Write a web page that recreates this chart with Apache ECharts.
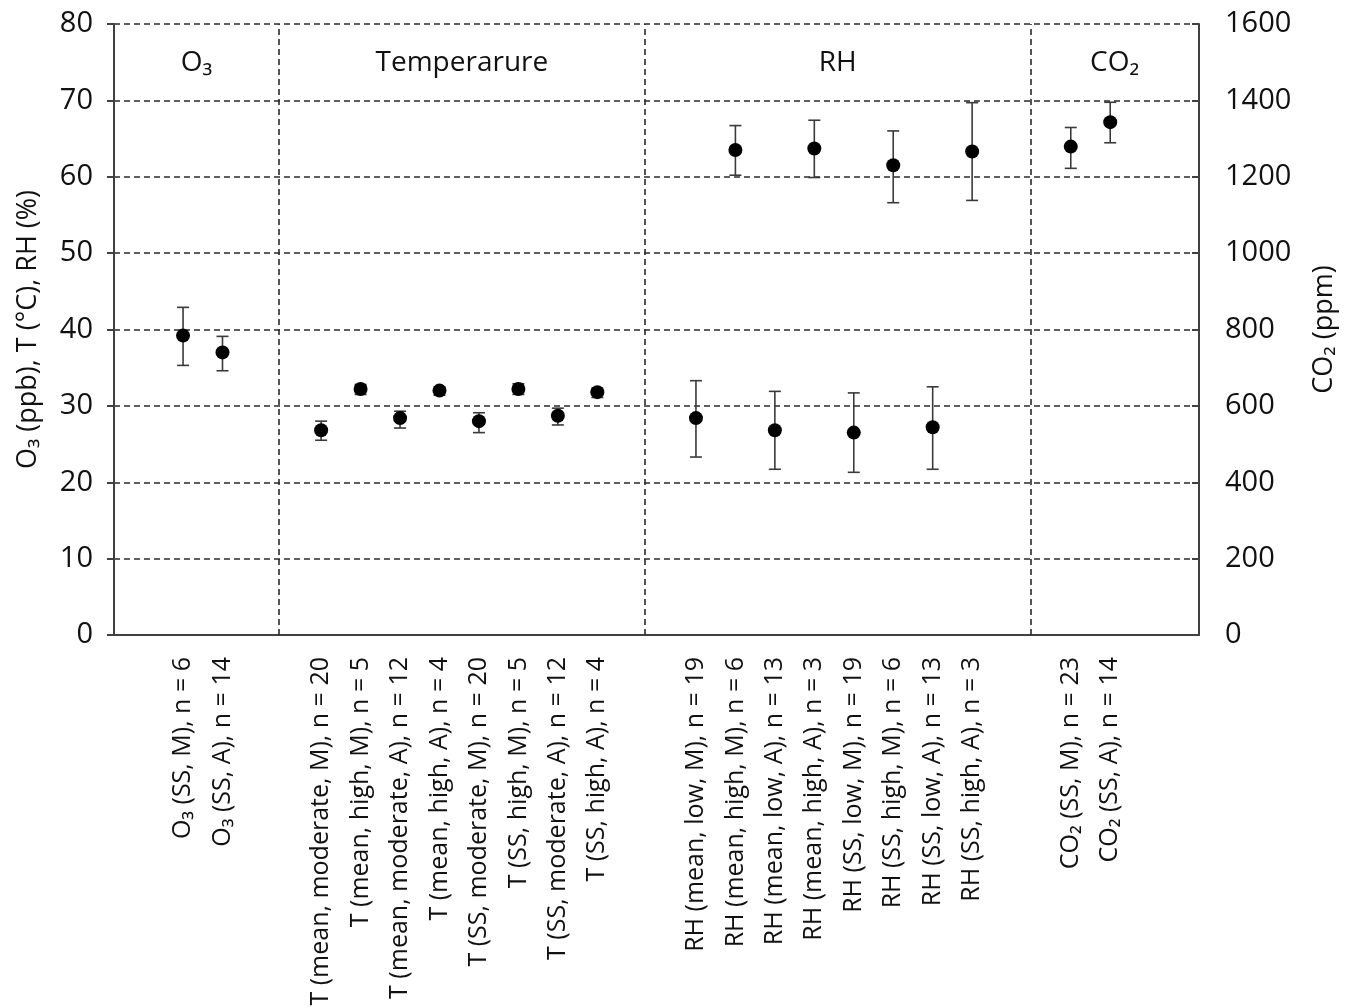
<!DOCTYPE html>
<html>
<head>
<meta charset="utf-8">
<script src="https://cdn.jsdelivr.net/npm/echarts@6/dist/echarts.min.js"></script>
<style>
  html, body { margin: 0; padding: 0; background: #fff; }
  #chart { width: 1353px; height: 1008px; }
</style>
</head>
<body>
<div id="chart"></div>
<script>
// --- data: label, mean, lower / upper end of error bar ---
const o3Labels = ['O₃ (SS, M), n = 6', 'O₃ (SS, A), n = 14'];
const o3Mean = [39.2, 37.0];
const o3Low = [35.3, 34.6];
const o3High = [42.9, 39.1];

const tLabels = [
  'T (mean, moderate, M), n = 20', 'T (mean, high, M), n = 5',
  'T (mean, moderate, A), n = 12', 'T (mean, high, A), n = 4',
  'T (SS, moderate, M), n = 20', 'T (SS, high, M), n = 5',
  'T (SS, moderate, A), n = 12', 'T (SS, high, A), n = 4'
];
const tMean = [26.8, 32.2, 28.4, 32.0, 28.0, 32.2, 28.7, 31.8];
const tLow = [25.5, 31.5, 27.1, 31.4, 26.5, 31.5, 27.5, 31.1];
const tHigh = [28.0, 32.8, 29.3, 32.5, 29.1, 32.9, 29.7, 32.3];

const rhLabels = [
  'RH (mean, low, M), n = 19', 'RH (mean, high, M), n = 6',
  'RH (mean, low, A), n = 13', 'RH (mean, high, A), n = 3',
  'RH (SS, low, M), n = 19', 'RH (SS, high, M), n = 6',
  'RH (SS, low, A), n = 13', 'RH (SS, high, A), n = 3'
];
const rhMean = [28.4, 63.5, 26.8, 63.7, 26.5, 61.5, 27.2, 63.3];
const rhLow = [23.3, 60.2, 21.7, 59.9, 21.3, 56.6, 21.7, 56.9];
const rhHigh = [33.3, 66.7, 31.9, 67.4, 31.7, 66.0, 32.5, 69.7];

const co2Labels = ['CO₂ (SS, M), n = 23', 'CO₂ (SS, A), n = 14'];
const co2Mean = [1279, 1343];
const co2Low = [1222, 1289];
const co2High = [1329, 1395];

const groupTitles = ['O₃', 'Temperarure', 'RH', 'CO₂'];
const leftTicks = { min: 0, max: 80, step: 10 };
const rightTicks = { min: 0, max: 1600, step: 200 };

// --- slot layout: blank slots between points and between groups ---
const LEAD = 3, GAP = 4;
const groups = [o3Labels, tLabels, rhLabels, co2Labels];
const slots = [];
for (let i = 0; i < LEAD; i++) slots.push('');
groups.forEach(g => {
  g.forEach((lab, i) => {
    if (i > 0) slots.push('');
    slots.push(lab);
  });
  for (let i = 0; i < GAP; i++) slots.push('');
});
const NSLOT = slots.length;

// separator positions (in slot units) on a hidden value axis
const sepPos = [8.36, 26.91, 46.45];
const bounds = [0, ...sepPos, NSLOT];

const FONT = "'Open Sans', 'Noto Sans', sans-serif";
const TXT = '#111';
const AXIS = '#404040';
const DASH = '#2a2a2a';

function pts(labels, mean) {
  return labels.map((l, i) => [slots.indexOf(l), mean[i]]);
}
function bars(labels, lo, hi) {
  return labels.map((l, i) => [slots.indexOf(l), lo[i], hi[i]]);
}

function renderBar(params, api) {
  const x = api.value(0);
  const a = api.coord([x, api.value(1)]);
  const b = api.coord([x, api.value(2)]);
  const half = 6;
  const style = { stroke: '#3a3a3a', lineWidth: 1.6 };
  return {
    type: 'group',
    children: [
      { type: 'line', shape: { x1: a[0], y1: a[1], x2: b[0], y2: b[1] }, style },
      { type: 'line', shape: { x1: a[0] - half, y1: a[1], x2: a[0] + half, y2: a[1] }, style },
      { type: 'line', shape: { x1: b[0] - half, y1: b[1], x2: b[0] + half, y2: b[1] }, style }
    ]
  };
}

const leftPts = [].concat(pts(o3Labels, o3Mean), pts(tLabels, tMean), pts(rhLabels, rhMean));
const leftBars = [].concat(bars(o3Labels, o3Low, o3High), bars(tLabels, tLow, tHigh), bars(rhLabels, rhLow, rhHigh));

const chart = echarts.init(document.getElementById('chart'));
chart.setOption({
  backgroundColor: '#fff',
  animation: false,
  textStyle: { fontFamily: FONT, color: TXT },
  grid: { left: 114, right: 154, top: 24, bottom: 373, outerBoundsMode: 'none' },
  xAxis: [
    {
      type: 'category',
      data: slots,
      boundaryGap: true,
      axisLine: { lineStyle: { color: AXIS, width: 2 } },
      axisTick: { show: false },
      splitLine: { show: false },
      axisLabel: {
        interval: 0, rotate: 90, margin: 22,
        fontSize: 25, color: TXT, fontFamily: FONT
      }
    },
    { type: 'value', min: 0, max: NSLOT, show: false }
  ],
  yAxis: [
    {
      type: 'value',
      min: leftTicks.min, max: leftTicks.max, interval: leftTicks.step,
      name: 'O₃ (ppb), T (°C), RH (%)',
      nameLocation: 'middle', nameRotate: 90, nameGap: 72,
      nameTextStyle: { fontSize: 27, color: TXT, fontFamily: FONT },
      axisLine: { show: true, lineStyle: { color: AXIS, width: 2 } },
      axisTick: { show: true, length: 7, lineStyle: { color: AXIS, width: 2 } },
      axisLabel: { fontSize: 29, margin: 21, color: TXT, fontFamily: FONT },
      splitLine: { show: true, lineStyle: { color: DASH, width: 1.6, type: [6, 4] } }
    },
    {
      type: 'value', position: 'right',
      min: rightTicks.min, max: rightTicks.max, interval: rightTicks.step,
      name: 'CO₂ (ppm)',
      nameLocation: 'middle', nameRotate: 90, nameGap: 112,
      nameTextStyle: { fontSize: 27, color: TXT, fontFamily: FONT },
      axisLine: { show: true, lineStyle: { color: AXIS, width: 2 } },
      axisTick: { show: true, inside: true, length: 7, lineStyle: { color: AXIS, width: 2 } },
      axisLabel: {
        fontSize: 29, margin: 26, color: TXT, fontFamily: FONT,
        formatter: v => String(v)
      },
      splitLine: { show: false }
    }
  ],
  series: [
    {
      type: 'line', xAxisIndex: 1, yAxisIndex: 0, data: [], silent: true,
      markLine: {
        silent: true, symbol: 'none', label: { show: false },
        lineStyle: { color: DASH, width: 1.6, type: [6, 4] },
        data: sepPos.map(v => ({ xAxis: v }))
      },
      markArea: {
        silent: true,
        itemStyle: { color: 'rgba(0,0,0,0)' },
        label: {
          show: true, position: 'insideTop', distance: 25,
          fontSize: 28, color: TXT, fontFamily: FONT
        },
        data: groupTitles.map((t, i) => [
          { name: t, xAxis: bounds[i], yAxis: leftTicks.min },
          { xAxis: bounds[i + 1], yAxis: leftTicks.max }
        ])
      }
    },
    {
      type: 'custom', xAxisIndex: 0, yAxisIndex: 0,
      renderItem: renderBar, encode: { x: 0, y: [1, 2] },
      data: leftBars, z: 3
    },
    {
      type: 'custom', xAxisIndex: 0, yAxisIndex: 1,
      renderItem: renderBar, encode: { x: 0, y: [1, 2] },
      data: bars(co2Labels, co2Low, co2High), z: 3
    },
    {
      type: 'scatter', xAxisIndex: 0, yAxisIndex: 0,
      symbolSize: 14, itemStyle: { color: '#000', opacity: 1 },
      data: leftPts, z: 4
    },
    {
      type: 'scatter', xAxisIndex: 0, yAxisIndex: 1,
      symbolSize: 14, itemStyle: { color: '#000', opacity: 1 },
      data: pts(co2Labels, co2Mean), z: 4
    }
  ]
});
</script>
</body>
</html>
